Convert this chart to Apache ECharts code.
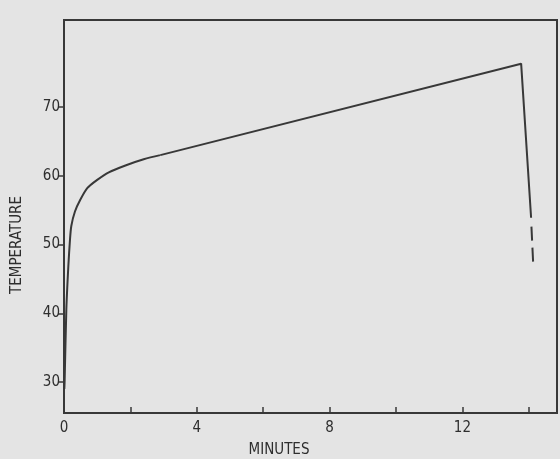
<!DOCTYPE html>
<html>
<head>
<meta charset="utf-8">
<script src="https://cdn.jsdelivr.net/npm/echarts@6/dist/echarts.min.js"></script>
<style>
html,body{margin:0;padding:0;background:#e4e4e4;}
#c{width:560px;height:459px;}
</style>
</head>
<body>
<div id="c"></div>
<script>
// Data (minutes, temperature)
var curveMinutes = [0.01, 0.02, 0.07, 0.13, 0.18, 0.22, 0.33, 0.49, 0.70, 1.0, 1.35, 1.85, 2.4, 2.9];
var curveTemps   = [29.0, 30.3, 40.5, 46.8, 50.7, 52.7, 54.8, 56.5, 58.2, 59.4, 60.5, 61.5, 62.4, 63.0];
var lineMinutes  = [2.9, 13.77, 14.07];
var lineTemps    = [63.0, 76.3, 53.9];
var dashMinutes  = [14.08, 14.13];
var dashTemps    = [52.6, 47.5];
var xTickValues  = [2, 4, 6, 8, 10, 12, 14];
var xLabelValues = [0, 4, 8, 12];
var yTickValues  = [30, 40, 50, 60, 70];

function pairs(a, b) { return a.map(function (v, i) { return [v, b[i]]; }); }

var ink = '#383838';
var font = '"DejaVu Sans Condensed", "Liberation Sans Narrow", "Open Sans", sans-serif';

var chart = echarts.init(document.getElementById('c'), null, {renderer: 'canvas'});
chart.setOption({
  backgroundColor: '#e4e4e4',
  animation: false,
  grid: {left: 64, right: 3, top: 20, bottom: 46, show: true, borderColor: ink, borderWidth: 2, backgroundColor: 'transparent'},
  xAxis: {
    type: 'value', min: 0, max: 14.85,
    axisLine: {show: true, lineStyle: {color: ink, width: 2}},
    axisTick: {show: true, inside: true, length: 6, lineStyle: {color: ink, width: 1.5}, customValues: xTickValues},
    axisLabel: {color: '#2e2e2e', fontFamily: font, fontSize: 15, margin: 8, customValues: xLabelValues},
    splitLine: {show: false}
  },
  yAxis: {
    type: 'value', min: 25.5, max: 82.65,
    axisLine: {show: true, lineStyle: {color: ink, width: 2}},
    axisTick: {show: true, inside: false, length: 6, lineStyle: {color: ink, width: 1.5}, customValues: yTickValues},
    axisLabel: {color: '#2e2e2e', fontFamily: font, fontSize: 15, margin: 4, customValues: yTickValues},
    splitLine: {show: false}
  },
  graphic: [
    {type: 'text', x: 17, y: 245, rotation: Math.PI / 2, style: {text: 'TEMPERATURE', fill: '#2e2e2e', font: '15px ' + font, textAlign: 'center', textVerticalAlign: 'middle'}},
    {type: 'text', x: 279, y: 450, style: {text: 'MINUTES', fill: '#2e2e2e', font: '15px ' + font, textAlign: 'center', textVerticalAlign: 'middle'}}
  ],
  series: [
    {type: 'line', data: pairs(curveMinutes, curveTemps), smooth: 0.25, showSymbol: false, lineStyle: {color: ink, width: 2}},
    {type: 'line', data: pairs(lineMinutes, lineTemps), smooth: false, showSymbol: false, lineStyle: {color: ink, width: 2}},
    {type: 'line', data: pairs(dashMinutes, dashTemps), smooth: false, showSymbol: false, lineStyle: {color: ink, width: 2, type: [14, 7]}}
  ]
});
</script>
</body>
</html>
